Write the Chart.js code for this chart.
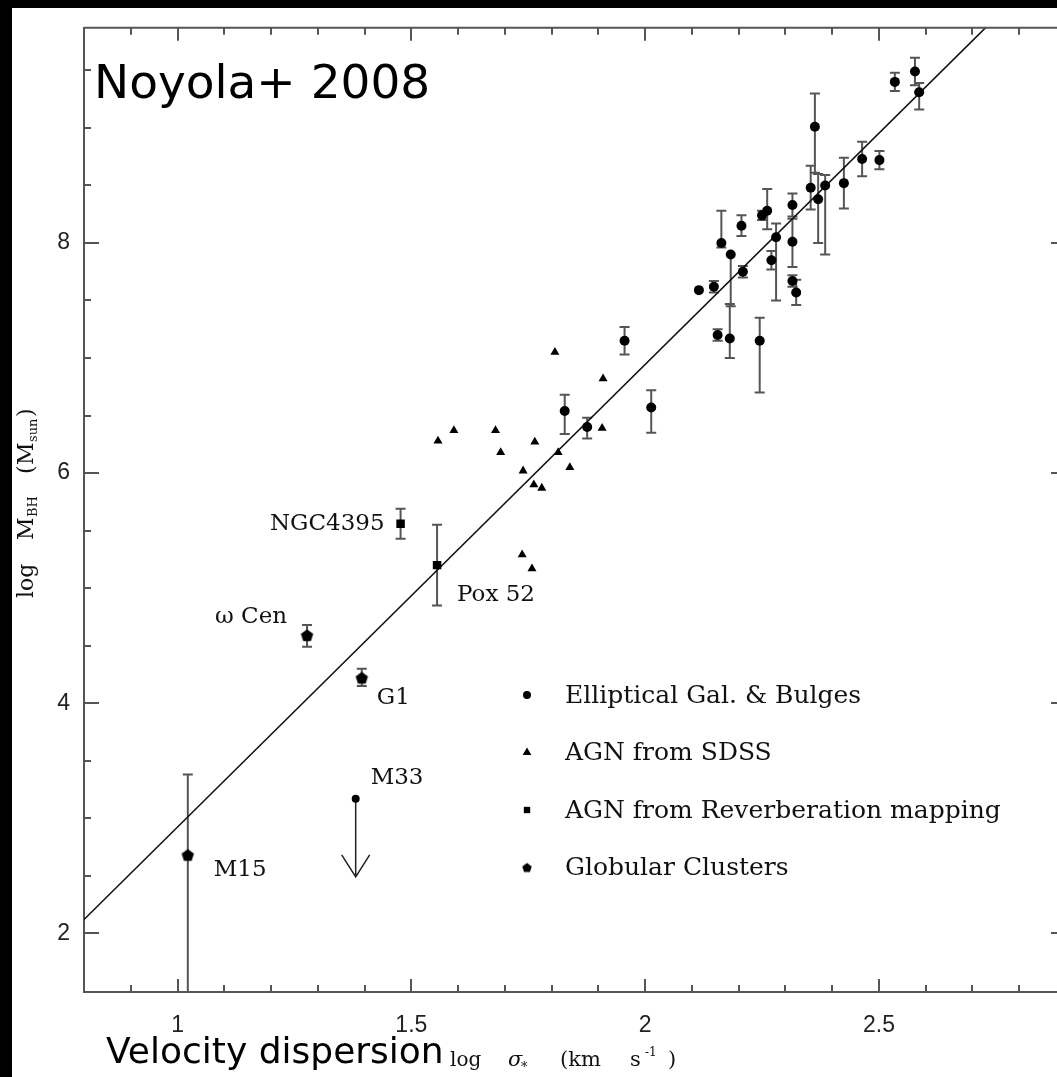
<!DOCTYPE html>
<html>
<head>
<meta charset="utf-8">
<script src="https://cdn.jsdelivr.net/npm/chart.js@4.4.1/dist/chart.umd.min.js"></script>
<style>
  html, body { margin: 0; padding: 0; background: #fff; overflow: hidden; }
  #wrap { position: absolute; left: 0; top: 0; }
</style>
</head>
<body>
<div id="wrap"><canvas id="msigma" width="1075" height="1077"></canvas></div>
<script>
'use strict'

// log sigma / log M_BH values with lower and upper errors
const ellX = [2.115, 2.147, 2.155, 2.163, 2.181, 2.183, 2.206, 2.209, 2.245, 2.250, 2.261, 2.270, 2.280, 2.315, 2.315, 2.315, 2.323, 2.354, 2.363, 2.370, 2.385, 2.425, 2.464, 2.501, 2.534, 2.577, 2.586, 1.956, 2.013, 1.828, 1.876];
const ellY = [7.59, 7.62, 7.20, 8.00, 7.17, 7.90, 8.15, 7.75, 7.15, 8.24, 8.28, 7.85, 8.05, 8.33, 8.01, 7.67, 7.57, 8.48, 9.01, 8.38, 8.50, 8.52, 8.73, 8.72, 9.40, 9.49, 9.31, 7.15, 6.57, 6.54, 6.40];
const ellErrLo = [0, 0.05, 0.05, 0.04, 0.17, 0.45, 0.09, 0.05, 0.45, 0.04, 0.16, 0.08, 0.55, 0.10, 0.22, 0.05, 0.11, 0.19, 0.40, 0.38, 0.60, 0.22, 0.15, 0.08, 0.08, 0.12, 0.15, 0.12, 0.22, 0.20, 0.10];
const ellErrHi = [0, 0.05, 0.05, 0.28, 0.30, 0, 0.09, 0.05, 0.20, 0.04, 0.19, 0.08, 0.12, 0.10, 0.20, 0.05, 0.11, 0.19, 0.29, 0.22, 0.09, 0.22, 0.15, 0.08, 0.08, 0.12, 0.08, 0.12, 0.15, 0.14, 0.08];

const sdssX = [1.557, 1.591, 1.680, 1.691, 1.737, 1.739, 1.758, 1.762, 1.764, 1.779, 1.807, 1.814, 1.839, 1.908, 1.910];
const sdssY = [6.28, 6.37, 6.37, 6.18, 5.29, 6.02, 5.17, 5.90, 6.27, 5.87, 7.05, 6.18, 6.05, 6.39, 6.82];

const rmNames = ['NGC4395', 'Pox 52'];
const rmX = [1.477, 1.555];
const rmY = [5.56, 5.20];
const rmErr = [0.13, 0.35];

const gcNames = ['M15', 'ω Cen', 'G1'];
const gcX = [1.022, 1.277, 1.394];
const gcY = [2.68, 4.59, 4.22];
const gcErrLo = [1.30, 0.10, 0.07];
const gcErrHi = [0.70, 0.09, 0.08];

// M33 upper limit
const m33Names = ['M33'];
const m33X = [1.381];
const m33Y = [3.17];
const m33Limit = [2.49];

// M-sigma relation
const fitX = [0.8, 2.8];
const fitY = [2.12, 10.16];

const xTicks = [1, 1.5, 2, 2.5];
const yTicks = [2, 4, 6, 8];
const legendLabels = ['Elliptical Gal. & Bulges', 'AGN from SDSS', 'AGN from Reverberation mapping', 'Globular Clusters'];

const pts = (xs, ys) => xs.map((x, i) => ({x: x, y: ys[i]}));

// pentagon marker for globular clusters
function pentagon(r) {
  const c = document.createElement('canvas');
  c.width = c.height = Math.ceil(r * 2 + 2);
  const g = c.getContext('2d');
  g.fillStyle = '#000';
  g.beginPath();
  for (let k = 0; k < 5; k++) {
    const a = -Math.PI / 2 + k * 2 * Math.PI / 5;
    const px = c.width / 2 + r * Math.cos(a), py = c.height / 2 + r * Math.sin(a) + 0.5;
    k ? g.lineTo(px, py) : g.moveTo(px, py);
  }
  g.closePath();
  g.fill();
  return c;
}
const gcMark = pentagon(6.5);
const gcMarkSmall = pentagon(5);

const serif = '"DejaVu Serif", "Liberation Serif", serif';
const sans = '"DejaVu Sans", sans-serif';

const decor = {
  id: 'decor',
  beforeDraw(chart) {
    const ctx = chart.ctx;
    ctx.save();
    ctx.fillStyle = '#fff';
    ctx.fillRect(0, 0, chart.width, chart.height);
    ctx.restore();
  },
  beforeDatasetsDraw(chart) {
    const ctx = chart.ctx, xs = chart.scales.x, ys = chart.scales.y, a = chart.chartArea;
    ctx.save();
    ctx.beginPath();
    ctx.rect(a.left, a.top, a.right - a.left, a.bottom - a.top);
    ctx.clip();
    ctx.strokeStyle = '#555';
    ctx.lineWidth = 2;
    chart.data.datasets.forEach(ds => {
      if (!ds.errLo) return;
      ds.data.forEach((p, i) => {
        const lo = ds.errLo[i], hi = ds.errHi[i];
        if (!lo && !hi) return;
        const px = xs.getPixelForValue(p.x);
        const y0 = ys.getPixelForValue(p.y - lo), y1 = ys.getPixelForValue(p.y + hi);
        ctx.beginPath();
        ctx.moveTo(px, y0); ctx.lineTo(px, y1);
        if (lo) { ctx.moveTo(px - 5, y0); ctx.lineTo(px + 5, y0); }
        if (hi) { ctx.moveTo(px - 5, y1); ctx.lineTo(px + 5, y1); }
        ctx.stroke();
      });
    });
    // upper-limit arrow
    ctx.strokeStyle = '#222';
    ctx.lineWidth = 1.5;
    m33X.forEach((x, i) => {
      const px = xs.getPixelForValue(x);
      const y0 = ys.getPixelForValue(m33Y[i]), y1 = ys.getPixelForValue(m33Limit[i]);
      ctx.beginPath();
      ctx.moveTo(px, y0); ctx.lineTo(px, y1);
      ctx.moveTo(px - 14, y1 - 22); ctx.lineTo(px, y1); ctx.lineTo(px + 14, y1 - 22);
      ctx.stroke();
    });
    ctx.restore();
  },
  afterDraw(chart) {
    const ctx = chart.ctx, xs = chart.scales.x, ys = chart.scales.y, a = chart.chartArea;
    ctx.save();

    // frame and tick marks on all four sides
    ctx.strokeStyle = '#555';
    ctx.lineWidth = 2;
    ctx.beginPath();
    ctx.moveTo(a.left, a.top); ctx.lineTo(a.right, a.top); ctx.lineTo(a.right, a.bottom);
    for (let v = 0.8; v <= 2.9001; v += 0.1) {
      const px = Math.round(xs.getPixelForValue(v));
      const major = Math.abs(v * 2 - Math.round(v * 2)) < 1e-6;
      const len = major ? 13 : 7;
      ctx.moveTo(px, a.bottom); ctx.lineTo(px, a.bottom - len);
      ctx.moveTo(px, a.top); ctx.lineTo(px, a.top + len);
    }
    for (let v = 2; v <= 9.5001; v += 0.5) {
      const py = Math.round(ys.getPixelForValue(v));
      const major = Math.abs(v / 2 - Math.round(v / 2)) < 1e-6;
      const len = major ? 15 : 7;
      ctx.moveTo(a.left, py); ctx.lineTo(a.left + len, py);
      ctx.moveTo(a.right, py); ctx.lineTo(a.right - len, py);
    }
    ctx.stroke();

    // object names
    ctx.fillStyle = '#111';
    ctx.font = '23px ' + serif;
    ctx.textBaseline = 'middle';
    const tag = (ds, i, text, dx, dy, align) => {
      const p = chart.getDatasetMeta(ds).data[i];
      ctx.textAlign = align;
      ctx.fillText(text, p.x + dx, p.y + dy);
    };
    tag(2, 0, rmNames[0], -16, 0, 'right');
    tag(2, 1, rmNames[1], 20, 30, 'left');
    tag(3, 0, gcNames[0], 26, 15, 'left');
    tag(3, 1, gcNames[1], -20, -18, 'right');
    tag(3, 2, gcNames[2], 15, 20, 'left');
    tag(4, 0, m33Names[0], 15, -21, 'left');

    // legend
    const styles = ['circle', 'triangle', 'rect', gcMarkSmall];
    const radii = [4, 5, 4.5, 5];
    ctx.font = '25px ' + serif;
    ctx.textAlign = 'left';
    legendLabels.forEach((label, i) => {
      const ly = 695 + i * 57.5;
      ctx.fillStyle = '#000';
      Chart.helpers.drawPoint(ctx, {pointStyle: styles[i], radius: radii[i], rotation: 0, borderWidth: 0}, 527, ly);
      ctx.fillStyle = '#111';
      ctx.fillText(label, 565, ly + 1);
    });

    // axis titles
    ctx.fillStyle = '#111';
    ctx.textBaseline = 'alphabetic';
    ctx.font = '20px ' + serif;
    ctx.fillText('log', 450, 1066);
    ctx.font = 'italic 21px ' + serif;
    ctx.fillText('σ', 508, 1066);
    ctx.font = '13px ' + serif;
    ctx.fillText('*', 521, 1071);
    ctx.font = '21px ' + serif;
    ctx.fillText('(km', 560, 1066);
    ctx.fillText('s', 630, 1066);
    ctx.fillText(')', 668, 1066);
    ctx.font = '12px ' + serif;
    ctx.fillText('-1', 645, 1056);

    ctx.save();
    ctx.translate(33, 598);
    ctx.rotate(-Math.PI / 2);
    ctx.font = '22px ' + serif;
    ctx.fillText('log', 0, 0);
    ctx.fillText('M', 58, 0);
    ctx.fillText('(', 124, 0);
    ctx.fillText('M', 133, 0);
    ctx.fillText(')', 181, 0);
    ctx.font = '13px ' + serif;
    ctx.fillText('BH', 81, 4);
    ctx.fillText('sun', 156, 4);
    ctx.restore();

    // overlay captions
    ctx.fillStyle = '#000';
    ctx.font = '47px ' + sans;
    ctx.fillText('Noyola+ 2008', 94, 98);
    ctx.font = '36px ' + sans;
    ctx.fillText('Velocity dispersion', 106, 1063);

    // dark borders
    ctx.fillRect(0, 0, chart.width, 8);
    ctx.fillRect(0, 0, 12, chart.height);
    ctx.restore();
  }
};

const ctx = document.getElementById('msigma');
const myChart = new Chart(ctx, {
  type: 'scatter',
  data: {
    datasets: [
      {
        label: legendLabels[0],
        data: pts(ellX, ellY),
        errLo: ellErrLo,
        errHi: ellErrHi,
        pointStyle: 'circle',
        pointRadius: 5,
        backgroundColor: '#000',
        borderWidth: 0,
      },
      {
        label: legendLabels[1],
        data: pts(sdssX, sdssY),
        pointStyle: 'triangle',
        pointRadius: 5.2,
        backgroundColor: '#000',
        borderWidth: 0,
      },
      {
        label: legendLabels[2],
        data: pts(rmX, rmY),
        errLo: rmErr,
        errHi: rmErr,
        pointStyle: 'rect',
        pointRadius: 6,
        backgroundColor: '#000',
        borderWidth: 0,
      },
      {
        label: legendLabels[3],
        data: pts(gcX, gcY),
        errLo: gcErrLo,
        errHi: gcErrHi,
        pointStyle: gcMark,
        pointRadius: 6,
        backgroundColor: '#000',
        borderWidth: 0,
      },
      {
        label: 'M33',
        data: pts(m33X, m33Y),
        pointStyle: 'circle',
        pointRadius: 4,
        backgroundColor: '#000',
        borderWidth: 0,
      },
      {
        type: 'line',
        label: 'fit',
        data: pts(fitX, fitY),
        borderColor: '#111',
        borderWidth: 1.6,
        pointRadius: 0,
        fill: false,
      },
    ]
  },
  options: {
    responsive: false,
    animation: false,
    events: [],
    layout: {padding: {left: 12, top: 14, right: 9, bottom: 0}},
    scales: {
      x: {
        type: 'linear',
        min: 0.8,
        max: 2.9,
        grid: {display: false, drawTicks: false},
        border: {display: true, color: '#555', width: 2},
        afterBuildTicks: s => { s.ticks = xTicks.map(v => ({value: v})); },
        afterFit: s => { s.height = 85; },
        ticks: {
          padding: 20,
          color: '#222',
          font: {family: '"Liberation Sans", Arial, sans-serif', size: 23},
          callback: value => String(value),
        },
      },
      y: {
        type: 'linear',
        min: 1.49,
        max: 9.87,
        grid: {display: false, drawTicks: false},
        border: {display: true, color: '#555', width: 2},
        afterBuildTicks: s => { s.ticks = yTicks.map(v => ({value: v})); },
        afterFit: s => { s.width = 72; },
        ticks: {
          padding: 14,
          color: '#222',
          font: {family: '"Liberation Sans", Arial, sans-serif', size: 23},
          callback: value => String(value),
        },
      }
    },
    plugins: {
      legend: {display: false},
      tooltip: {enabled: false},
    }
  },
  plugins: [decor]
});
</script>
</body>
</html>
